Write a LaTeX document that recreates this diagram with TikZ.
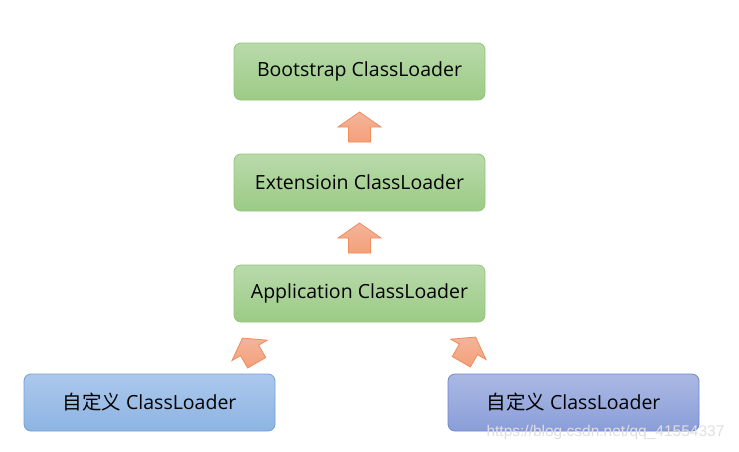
\documentclass[tikz,border=0pt]{standalone}
\usepackage{fontspec}
\setmainfont{Open Sans}
\newfontfamily\cjk{Noto Sans CJK SC}
\newfontfamily\wm{Liberation Sans}
\usetikzlibrary{calc}
\definecolor{gtop}{HTML}{B9DAAB}
\definecolor{gbot}{HTML}{9BCB85}
\definecolor{gline}{HTML}{93C47D}
\definecolor{btop}{HTML}{ABC8EC}
\definecolor{bbot}{HTML}{8DB4E2}
\definecolor{bline}{HTML}{6FA0DA}
\definecolor{ptop}{HTML}{AAB8E3}
\definecolor{pbot}{HTML}{8A9ED8}
\definecolor{pline}{HTML}{6E86CC}
\definecolor{atop}{HTML}{F4B49A}
\definecolor{abot}{HTML}{F4A07A}
\definecolor{aline}{HTML}{EE8C5C}
\tikzset{
  box/.style={rounded corners=7pt, minimum width=251pt, minimum height=57pt, line width=0.8pt, font=\fontsize{19.5}{22}\selectfont, text=black},
  greenbox/.style={box, draw=gline, top color=gtop, bottom color=gbot},
  bluebox/.style={box, draw=bline, top color=btop, bottom color=bbot},
  purplebox/.style={box, draw=pline, top color=ptop, bottom color=pbot},
  blockarr/.style={draw=aline, line width=0.8pt, top color=atop, bottom color=abot, line join=miter},
}
\newcommand{\blockarrow}[3]{%
  \draw[blockarr, shift={(#1)}, rotate=#2, scale=#3] (0,-15) -- (21.5,0) -- (11,0) -- (11,15) -- (-11,15) -- (-11,0) -- (-21.5,0) -- cycle;}
\begin{document}
\begin{tikzpicture}[x=1pt,y=-1pt]
\useasboundingbox (0,0) rectangle (739,451);
\node[greenbox] (boot) at (359.5,71.5) {Bootstrap ClassLoader};
\node[greenbox] (ext) at (359.5,182.5) {Extensioin ClassLoader};
\node[greenbox] (app) at (359.5,293.5) {Application ClassLoader};
\node[bluebox] (c1) at (149.5,402.5) {{\cjk 自定义} ClassLoader};
\node[purplebox] (c2) at (573.5,402.5) {{\cjk 自定义} ClassLoader};
\coordinate (a1) at ($(ext.north)!0.5!(boot.south)$);
\coordinate (a2) at ($(app.north)!0.5!(ext.south)$);
\coordinate (a3) at ($(app.south west)+(16,28)$);
\coordinate (a4) at ($(app.south east)+(-17,27)$);
\blockarrow{a1}{0}{1}
\blockarrow{a2}{0}{1}
\blockarrow{a3}{30}{0.95}
\blockarrow{a4}{-30}{0.95}
\node[anchor=west, font=\wm\fontsize{15.5}{17}\selectfont, text=gray!25] (wm) at (483,432) {https://blog.csdn.net/qq\_41554337};
\end{tikzpicture}
\end{document}
